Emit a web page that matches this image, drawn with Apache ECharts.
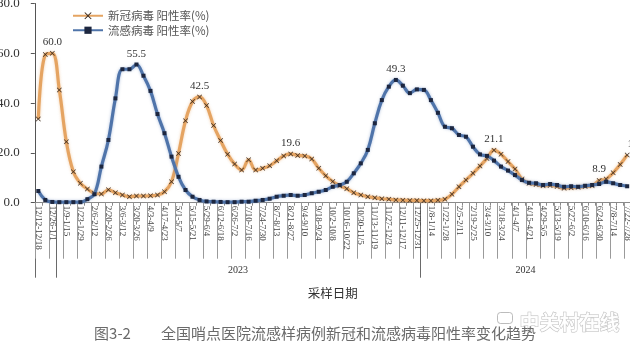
<!DOCTYPE html>
<html>
<head>
<meta charset="utf-8">
<script src="https://cdn.jsdelivr.net/npm/echarts@6/dist/echarts.min.js"></script>
<style>
  html, body { margin: 0; padding: 0; background: #fff; overflow: hidden; }
  #chart { width: 630px; height: 343px; }
</style>
</head>
<body>
<div id="chart"></div>
<script>
// Weekly sampling periods (week start - week end)
const weekLabels = [
  '12/12-12/18', '12/19-12/25', '12/26-1/1',
  '1/2-1/8', '1/9-1/15', '1/16-1/22', '1/23-1/29', '1/30-2/5', '2/6-2/12', '2/13-2/19',
  '2/20-2/26', '2/27-3/5', '3/6-3/12', '3/13-3/19', '3/20-3/26', '3/27-4/2', '4/3-4/9',
  '4/10-4/16', '4/17-4/23', '4/24-4/30', '5/1-5/7', '5/8-5/14', '5/15-5/21', '5/22-5/28',
  '5/29-6/4', '6/5-6/11', '6/12-6/18', '6/19-6/25', '6/26-7/2', '7/3-7/9', '7/10-7/16',
  '7/17-7/23', '7/24-7/30', '7/31-8/6', '8/7-8/13', '8/14-8/20', '8/21-8/27', '8/28-9/3',
  '9/4-9/10', '9/11-9/17', '9/18-9/24', '9/25-10/1', '10/2-10/8', '10/9-10/15',
  '10/16-10/22', '10/23-10/29', '10/30-11/5', '11/6-11/12', '11/13-11/19', '11/20-11/26',
  '11/27-12/3', '12/4-12/10', '12/11-12/17', '12/18-12/24', '12/25-12/31',
  '1/1-1/7', '1/8-1/14', '1/15-1/21', '1/22-1/28', '1/29-2/4', '2/5-2/11', '2/12-2/18',
  '2/19-2/25', '2/26-3/3', '3/4-3/10', '3/11-3/17', '3/18-3/24', '3/25-3/31', '4/1-4/7',
  '4/8-4/14', '4/15-4/21', '4/22-4/28', '4/29-5/5', '5/6-5/12', '5/13-5/19', '5/20-5/26',
  '5/27-6/2', '6/3-6/9', '6/10-6/16', '6/17-6/23', '6/24-6/30', '7/1-7/7', '7/8-7/14',
  '7/15-7/21', '7/22-7/28'
];

// Year groups on the lower axis level
const yearNames = ['2022', '2023', '2024'];
const yearWeeks = [3, 52, 30];

// Positive rate (%) of SARS-CoV-2
const covidRate = [
  33.6, 59.5, 60.0, 45.3, 24.5, 12.4, 7.8, 5.5, 3.8, 3.5,
  5.2, 4.0, 3.1, 2.4, 2.7, 2.7, 2.8, 3.1, 4.4, 8.4,
  19.8, 32.9, 40.6, 42.5, 39.0, 31.0, 25.0, 19.5, 15.5, 13.1,
  17.2, 13.1, 13.8, 14.8, 16.8, 18.8, 19.6, 19.0, 18.8, 17.6,
  13.8, 10.8, 8.5, 6.8, 5.6, 4.0, 3.1, 2.4, 2.0, 1.6,
  1.4, 1.1, 1.0, 0.9, 0.9, 0.8, 0.8, 1.0, 1.4, 3.4,
  6.4, 9.1, 11.8, 14.7, 17.8, 21.1, 19.5, 16.5, 13.5, 9.5,
  7.8, 7.3, 6.8, 6.9, 6.5, 5.8, 6.0, 6.2, 6.5, 6.8,
  8.9, 9.5, 12.0, 15.3, 19.2
];

// Positive rate (%) of influenza virus
const fluRate = [
  4.7, 1.1, 0.3, 0.2, 0.2, 0.2, 0.2, 1.4, 3.4, 14.5,
  25.2, 41.9, 53.6, 53.6, 55.5, 51.0, 44.9, 35.6, 27.9, 18.5,
  10.4, 5.1, 2.4, 1.1, 0.5, 0.4, 0.3, 0.2, 0.2, 0.4,
  0.4, 0.8, 1.1, 1.6, 2.4, 2.8, 3.1, 2.8, 3.1, 3.8,
  4.4, 5.1, 6.4, 7.1, 8.4, 11.8, 15.8, 21.2, 31.9, 41.2,
  46.6, 49.3, 47.0, 44.0, 45.5, 45.3, 41.2, 36.1, 30.5, 29.9,
  27.2, 26.5, 22.5, 19.4, 18.8, 16.9, 14.5, 12.9, 11.1, 9.1,
  8.0, 7.8, 7.1, 7.5, 7.1, 6.4, 6.6, 6.4, 6.8, 7.1,
  7.5, 8.4, 7.8, 7.1, 6.6
];

// Weeks whose value is printed above the point
const covidLabelled = [2, 23, 36, 65, 80, 84];
const fluLabelled = [14, 51];

const seriesNames = ['新冠病毒 阳性率(%)', '流感病毒 阳性率(%)'];
const axisTitle = '采样日期';
const caption = '图3-2\u3000\u3000全国哨点医院流感样病例新冠和流感病毒阳性率变化趋势';

// Week labels are printed every other week
const labelStep = 2;

// Year group boundaries and centres in week units
const yearBounds = [0];
yearWeeks.forEach((w, i) => yearBounds.push(yearBounds[i] + w));
const yearCentres = yearWeeks.map((w, i) => yearBounds[i] + w / 2);
const shownYearCentres = yearCentres.filter((c, i) => yearWeeks[i] > 4);
const totalWeeks = yearBounds[yearBounds.length - 1];

// Boundaries between printed week labels, in week units
const labelBounds = [];
for (let k = 0; k <= totalWeeks; k += labelStep) labelBounds.push(k);

const serif = '"Liberation Serif", "DejaVu Serif", serif';
const cjk = '"Noto Sans CJK SC", sans-serif';
const crossPath = 'path://M1,0L5,4L9,0L10,1L6,5L10,9L9,10L5,6L1,10L0,9L4,5L0,1Z';
const separatorLength = 56;

function withLabels(values, labelled, lastOffset) {
  return values.map((v, i) => {
    if (labelled.indexOf(i) < 0) return v;
    const item = { value: v, label: { show: true } };
    if (lastOffset && i === values.length - 1) item.label.offset = lastOffset;
    return item;
  });
}

const pointLabel = {
  show: false,
  position: 'top',
  distance: 3,
  color: '#333',
  fontFamily: serif,
  fontSize: 11,
  formatter: p => Number(p.value).toFixed(1)
};

const chart = echarts.init(document.getElementById('chart'), null, { renderer: 'canvas' });

chart.setOption({
  backgroundColor: '#fff',
  animation: false,
  title: {
    text: caption,
    left: 'center',
    top: 321,
    textStyle: { fontFamily: cjk, fontSize: 15, fontWeight: 'normal', color: '#6a6a6a' }
  },
  legend: {
    orient: 'vertical',
    left: 67,
    top: 5,
    itemWidth: 30,
    itemHeight: 9,
    itemGap: 3,
    textStyle: { fontFamily: cjk, fontSize: 11.5, color: '#555' },
    data: seriesNames
  },
  grid: {
    left: 34.8,
    right: -0.7,
    top: 3.5,
    bottom: 140.3,
    containLabel: false,
    outerBoundsMode: 'none'
  },
  xAxis: [
    {
      type: 'category',
      data: weekLabels,
      position: 'bottom',
      boundaryGap: true,
      axisLine: { lineStyle: { color: '#8a8a8a', width: 1 } },
      axisTick: { show: true, interval: 0, length: 3, lineStyle: { color: '#8a8a8a' } },
      axisLabel: {
        interval: labelStep - 1,
        rotate: -90,
        margin: 3,
        fontFamily: serif,
        fontSize: 9,
        color: '#444'
      },
      splitLine: { show: false }
    },
    {
      // year level in week units: group boundaries, year names and axis title
      type: 'value',
      min: 0,
      max: totalWeeks,
      position: 'bottom',
      offset: 0,
      axisLine: { show: false },
      splitLine: { show: false },
      axisTick: {
        show: true,
        customValues: yearBounds,
        length: 75,
        lineStyle: { color: '#6a6a6a' }
      },
      axisLabel: {
        show: true,
        customValues: shownYearCentres,
        margin: 63,
        fontFamily: serif,
        fontSize: 10,
        color: '#333',
        formatter: v => yearNames[yearCentres.indexOf(v)]
      },
      name: axisTitle,
      nameLocation: 'middle',
      nameGap: 84,
      nameTextStyle: { fontFamily: cjk, fontSize: 12.5, color: '#333' }
    }
  ],
  yAxis: {
    type: 'value',
    min: 0,
    max: 80,
    interval: 20,
    axisLine: { show: true, lineStyle: { color: '#555', width: 1 } },
    axisTick: { show: true, length: 4, lineStyle: { color: '#555' } },
    axisLabel: {
      margin: 15,
      fontFamily: serif,
      fontSize: 13,
      color: '#333',
      formatter: v => v.toFixed(1)
    },
    splitLine: { show: false }
  },
  series: [
    {
      name: seriesNames[0],
      type: 'line',
      xAxisIndex: 0,
      smooth: 0.4,
      showAllSymbol: true,
      data: withLabels(covidRate, covidLabelled, [10, 0]),
      symbol: crossPath,
      symbolSize: 5,
      itemStyle: { color: '#3d2c1f' },
      lineStyle: {
        color: '#e5a462',
        width: 3.2,
        shadowColor: 'rgba(232,170,105,0.55)',
        shadowBlur: 3
      },
      label: pointLabel,
      z: 2
    },
    {
      name: seriesNames[1],
      type: 'line',
      xAxisIndex: 0,
      smooth: 0.4,
      showAllSymbol: true,
      data: withLabels(fluRate, fluLabelled),
      symbol: 'rect',
      symbolSize: 4,
      itemStyle: { color: '#1d2740' },
      lineStyle: {
        color: '#4f74aa',
        width: 3.2,
        shadowColor: 'rgba(95,130,185,0.5)',
        shadowBlur: 3
      },
      label: pointLabel,
      z: 3
    },
    {
      // separator lines hanging below the axis between week labels
      name: 'separators',
      type: 'custom',
      xAxisIndex: 1,
      yAxisIndex: 0,
      silent: true,
      clip: false,
      data: labelBounds.map(k => [k, 0]),
      renderItem: (params, api) => {
        const p = api.coord([api.value(0), api.value(1)]);
        const x = Math.round(p[0]) + 0.5;
        return {
          type: 'line',
          shape: { x1: x, y1: p[1], x2: x, y2: p[1] + separatorLength },
          style: { stroke: '#9a9a9a', lineWidth: 1 }
        };
      },
      z: 1
    }
  ],
  graphic: [
    {
      type: 'group',
      left: 497,
      top: 312,
      silent: true,
      children: [
        {
          type: 'rect',
          shape: { x: 0, y: 0, width: 15, height: 11, r: 3 },
          style: { fill: 'rgba(255,255,255,0.85)', stroke: 'rgba(160,160,160,0.7)', lineWidth: 1 }
        },
        {
          type: 'text',
          x: 22,
          y: 0,
          style: {
            text: '中关村在线',
            font: 'bold 20px "Noto Sans CJK SC", sans-serif',
            fill: 'rgba(255,255,255,0.9)',
            stroke: 'rgba(150,150,150,0.65)',
            lineWidth: 1
          }
        }
      ]
    }
  ]
});
</script>
</body>
</html>
